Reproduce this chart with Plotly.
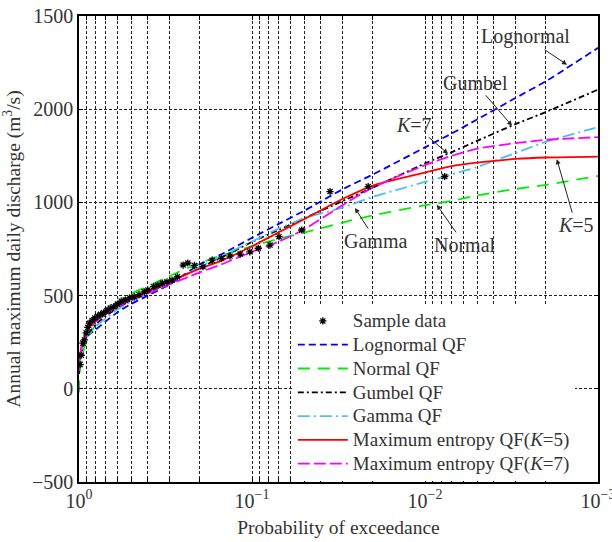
import numpy as np
import plotly.graph_objects as go

# ---------------- data ----------------
P = [0.9999, 0.999, 0.99, 0.95, 0.9, 0.8, 0.7, 0.6, 0.5, 0.4, 0.3, 0.2, 0.15,
     0.1, 0.07, 0.05, 0.03, 0.02, 0.01, 0.007, 0.005, 0.003, 0.002, 0.001]

LOGNORMAL = [115, 140, 175, 225, 280, 318, 362, 410, 455, 500, 560, 668, 722,
             810, 885, 955, 1070, 1150, 1295, 1370, 1445, 1560, 1650, 1829]
NORMAL = [-20, 5, 90, 190, 262, 345, 405, 460, 510, 550, 605, 675, 715,
          765, 805, 838, 892, 930, 985, 1008, 1037, 1072, 1094, 1142]
GUMBEL = [80, 110, 160, 230, 285, 345, 390, 432, 475, 518, 572, 650, 705,
          788, 853, 914, 1007, 1080, 1209, 1270, 1330, 1420, 1485, 1605]
GAMMA = [130, 150, 185, 235, 285, 335, 378, 425, 468, 512, 568, 655, 712,
         790, 860, 915, 972, 1030, 1110, 1150, 1190, 1265, 1325, 1404]
MAXENT_K5 = [100, 130, 175, 255, 310, 368, 405, 445, 482, 522, 575, 645, 688,
             765, 840, 910, 1018, 1090, 1160, 1195, 1213, 1233, 1241, 1246]
MAXENT_K7 = [95, 125, 170, 245, 300, 360, 400, 438, 475, 512, 560, 625, 668,
             735, 790, 855, 985, 1080, 1200, 1250, 1288, 1318, 1336, 1350]

SAMPLE_P = [0.985, 0.97, 0.95, 0.93, 0.91, 0.89, 0.87, 0.84, 0.81, 0.78, 0.75,
            0.72, 0.69, 0.66, 0.63, 0.60, 0.57, 0.54, 0.51, 0.48, 0.45, 0.42,
            0.40, 0.37, 0.35, 0.33, 0.31, 0.29, 0.27, 0.25, 0.235, 0.215,
            0.192, 0.17, 0.15, 0.134, 0.117, 0.103, 0.092, 0.0787, 0.0698,
            0.0516, 0.0354, 0.0213, 0.0077]
SAMPLE_Q = [130, 180, 245, 262, 300, 330, 352, 366, 380, 390, 400,
            408, 420, 433, 440, 455, 470, 476, 488, 494, 505, 520,
            530, 548, 556, 567, 574, 583, 601, 664, 675, 662,
            655, 690, 700, 712, 723, 735, 754, 771, 816,
            852, 1058, 1085, 1139]

Y_TICKS = [-500, 0, 500, 1000, 1500, 2000]
Y_TICKTEXT = ["\u2212500", "0", "500", "1000", "2000", "1500"]
X_DECADES = [1, 0.1, 0.01, 0.001]
X_DECADE_TEXT = ["10<sup>0</sup>", "10<sup>\u22121</sup>",
                 "10<sup>\u22122</sup>", "10<sup>\u22123</sup>"]

# annotation: text, tip p, tip value, ax, ay
ANNOTS = [
    ("Lognormal", 0.00151, 1739, -42, -28),
    ("Gumbel", 0.00314, 1411, -37, -43),
    ("<i>K</i>=7", 0.00736, 1261, -34, -29),
    ("<i>K</i>=5", 0.00173, 1232, 19, 66),
    ("Normal", 0.00855, 987, 28, 40),
    ("Gamma", 0.0254, 970, 21, 33),
]

FONT = "Liberation Serif, Times New Roman, serif"
TXT = "#333333"


def leg(s):
    return '<span style="font-size:19px">' + s + "</span>"


# grid tick values for the log axis: every digit of each decade
x_tickvals, x_ticktext = [], []
for d, lab in zip(X_DECADES, X_DECADE_TEXT):
    x_tickvals.append(d)
    x_ticktext.append(lab)
    if d > 0.001:
        for k in range(2, 10):
            x_tickvals.append(d * k / 10)
            x_ticktext.append("")

fig = go.Figure()

lw = 1.8
curves = [
    ("Lognormal QF", LOGNORMAL, "#0000ff", "7px,4px", 2),
    ("Normal QF", NORMAL, "#00ee00", "12px,8px", 3),
    ("Gumbel QF", GUMBEL, "#000000", "6px,3px,2px,3px", 4),
    ("Gamma QF", GAMMA, "#4dbeee", "12px,4px,2px,4px", 5),
    ("Maximum entropy QF(<i>K</i>=5)", MAXENT_K5, "#ff0000", "solid", 6),
    ("Maximum entropy QF(<i>K</i>=7)", MAXENT_K7, "#ff00ff", "12px,4px", 7),
]
for name, vals, color, dash, rank in curves:
    fig.add_trace(go.Scatter(
        x=P, y=vals, mode="lines", name=leg(name), legendrank=rank,
        line=dict(color=color, width=lw, dash=dash, shape="spline", smoothing=0.6),
    ))

fig.add_trace(go.Scatter(
    x=SAMPLE_P, y=SAMPLE_Q, mode="markers", name=leg("Sample data"), legendrank=1,
    marker=dict(symbol="asterisk-open", size=6, color="black",
                line=dict(color="black", width=1.3)),
))

for text, p, v, ax, ay in ANNOTS:
    fig.add_annotation(
        x=np.log10(p), y=v, xref="x", yref="y", text=text,
        showarrow=True, arrowhead=2, arrowsize=1, arrowwidth=1,
        arrowcolor="#222222", ax=ax, ay=ay,
        font=dict(family=FONT, size=20, color=TXT),
    )

grid_kw = dict(showgrid=True, gridcolor="#222222", gridwidth=0.8,
               griddash="3px,2px", zeroline=False, showline=True,
               linecolor="black", linewidth=1.6, mirror="ticks",
               ticks="inside", ticklen=4, tickcolor="black",
               ticklabeloverflow="allow", automargin=False,
               tickfont=dict(family=FONT, size=20, color=TXT))

fig.update_xaxes(type="log", range=[0, -3], tickmode="array",
                 tickvals=x_tickvals, ticktext=x_ticktext,
                 title=dict(text="Probability of exceedance",
                            font=dict(family=FONT, size=19.5, color=TXT),
                            standoff=10),
                 **grid_kw)
fig.update_yaxes(range=[-500, 2000], tickmode="array",
                 tickvals=Y_TICKS, ticktext=Y_TICKTEXT,
                 title=dict(text="Annual maximum daily discharge (m<sup>3</sup>/s)",
                            font=dict(family=FONT, size=19.5, color=TXT),
                            standoff=6),
                 **grid_kw)

fig.update_layout(
    width=612, height=542,
    margin=dict(l=79, r=14, t=16, b=60, autoexpand=False),
    paper_bgcolor="white", plot_bgcolor="white",
    font=dict(family=FONT, size=16, color=TXT),
    showlegend=True,
    legend=dict(x=0.412, y=0.382, xanchor="left", yanchor="top",
                bgcolor="white", borderwidth=0, itemwidth=50,
                font=dict(family=FONT, size=16, color=TXT),
                tracegroupgap=0),
)

fig.write_html("out.html")
